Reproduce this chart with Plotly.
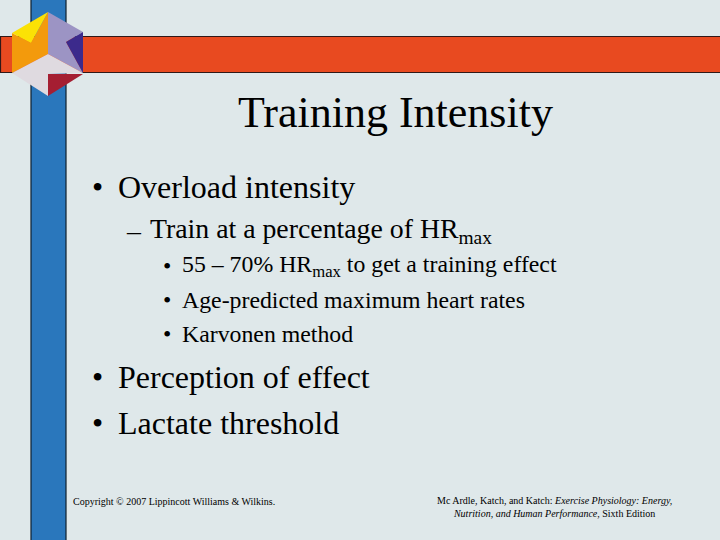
import plotly.graph_objects as go

BG = "#DFE8EA"
SERIF = "Liberation Serif"

title_text = "Training Intensity"
bullet_rows = [
    ("•", 90, 187, 32, "Overload intensity", 116),
    ("–", 124, 230, 27.8, "Train at a percentage of HR<sub>max</sub>", 148),
    ("•", 161, 266, 23.8, "55 – 70% HR<sub>max</sub> to get a training effect", 180),
    ("•", 161, 300, 23.8, "Age-predicted maximum heart rates", 180),
    ("•", 161, 334, 23.8, "Karvonen method", 180),
    ("•", 90, 377, 32, "Perception of effect", 116),
    ("•", 90, 423, 32, "Lactate threshold", 116),
]
footer_left = "Copyright © 2007 Lippincott Williams & Wilkins."
footer_right = ("Mc Ardle, Katch, and Katch: <i>Exercise Physiology: Energy,</i><br>"
                "<i>Nutrition, and Human Performance,</i> Sixth Edition")

# logo facets: colour, x points, y points
facets = [
    ("#F39A0C", [48, 31, 12, 12, 48], [12, 43, 33, 73, 54]),
    ("#FBE205", [48, 12, 31], [12, 33, 43]),
    ("#9C94C4", [48, 48, 83, 66, 83], [12, 54, 73, 42, 32]),
    ("#3C2A8C", [83, 66, 83], [32, 42, 73]),
    ("#DFDAE0", [12, 48, 83, 48, 48], [73, 54, 73, 74, 96]),
    ("#A51E32", [48, 83, 48], [74, 74, 96]),
]

fig = go.Figure()

for colour, xs, ys in facets:
    fig.add_trace(go.Scatter(x=xs + xs[:1], y=ys + ys[:1], mode="lines", fill="toself",
                             fillcolor=colour, line=dict(width=0), hoverinfo="skip"))

shapes = [
    dict(type="rect", x0=31, x1=66, y0=-2, y1=542, fillcolor="#2A77BC",
         line=dict(color="#10202E", width=1.2), layer="below"),
    dict(type="rect", x0=0.5, x1=722, y0=36.5, y1=72.5, fillcolor="#E84A20",
         line=dict(color="#301818", width=1.2), layer="below"),
]

annotations = [dict(x=395, y=112, text=title_text, showarrow=False, xanchor="center", yanchor="middle",
                    font=dict(family=SERIF, size=44, color="black"))]
for mark, mx, y, size, label, lx in bullet_rows:
    annotations.append(dict(x=mx, y=y, text=mark, showarrow=False, xanchor="left", yanchor="middle",
                            font=dict(family=SERIF, size=size, color="black")))
    annotations.append(dict(x=lx, y=y, text=label, showarrow=False, xanchor="left", yanchor="middle",
                            font=dict(family=SERIF, size=size, color="black")))
annotations.append(dict(x=71, y=501, text=footer_left, showarrow=False, xanchor="left", yanchor="middle",
                        font=dict(family=SERIF, size=10, color="black")))
annotations.append(dict(x=554, y=507, text=footer_right, showarrow=False, xanchor="center", yanchor="middle",
                        align="center", font=dict(family=SERIF, size=10, color="black")))

fig.update_layout(
    width=720, height=540, margin=dict(l=0, r=0, t=0, b=0),
    paper_bgcolor=BG, plot_bgcolor=BG, showlegend=False,
    xaxis=dict(range=[0, 720], visible=False, fixedrange=True),
    yaxis=dict(range=[540, 0], visible=False, fixedrange=True),
    shapes=shapes, annotations=annotations,
)
# drop the page's default body margin so the slide fills the window
fig.write_html("out.html", config=dict(displayModeBar=False),
               post_script="document.body.style.margin='0';")
